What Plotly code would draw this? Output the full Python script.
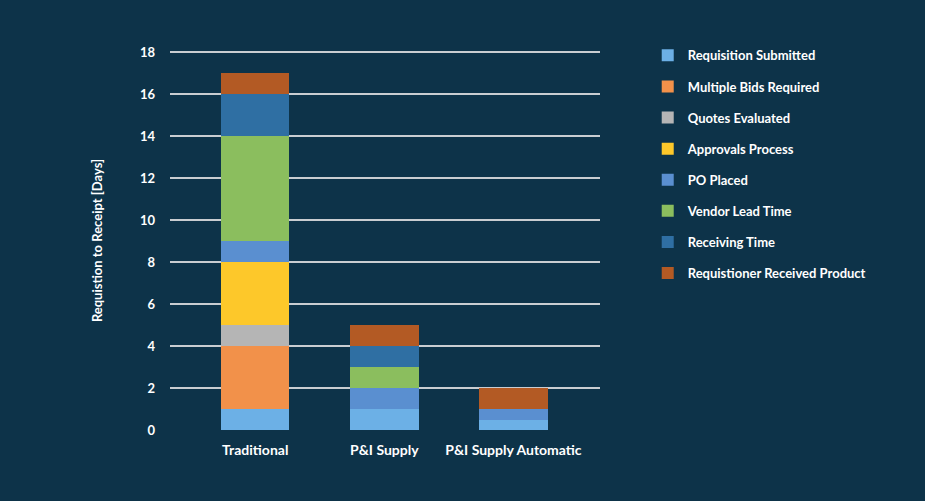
import plotly.graph_objects as go

categories = ["Traditional", "P&I Supply", "P&I Supply Automatic"]
series_names = [
    "Requisition Submitted",
    "Multiple Bids Required",
    "Quotes Evaluated",
    "Approvals Process",
    "PO Placed",
    "Vendor Lead Time",
    "Receiving Time",
    "Requistioner Received Product",
]
requisition_submitted = [1, 1, 0.5]
multiple_bids = [3, 0, 0]
quotes_evaluated = [1, 0, 0]
approvals_process = [3, 0, 0]
po_placed = [1, 1, 0.5]
vendor_lead_time = [5, 1, 0]
receiving_time = [2, 1, 0]
received_product = [1, 1, 1]
series_values = [requisition_submitted, multiple_bids, quotes_evaluated, approvals_process,
                 po_placed, vendor_lead_time, receiving_time, received_product]
colors = ["#6cb0e6", "#f2914a", "#b5b5b5", "#fdc82a", "#5a8fd0", "#8bbe5e", "#2f6fa3", "#b35a24"]
tick_vals = [0, 2, 4, 6, 8, 10, 12, 14, 16, 18]

BG = "#0d3349"
FONT = "Lato"

fig = go.Figure()
for name, vals, col in zip(series_names, series_values, colors):
    fig.add_trace(go.Bar(
        x=categories, y=vals, name=name, legendgroup=name,
        marker=dict(color=col, line=dict(width=0)),
        width=0.53,
    ))

fig.update_layout(
    barmode="stack",
    width=925, height=501,
    paper_bgcolor=BG, plot_bgcolor=BG,
    margin=dict(l=170, r=325, t=51, b=71),
    font=dict(family=FONT, color="white", size=12),
    showlegend=True,
    legend=dict(
        x=1.111, y=1.028, xanchor="left", yanchor="top",
        traceorder="grouped", tracegroupgap=11.2,
        font=dict(family=FONT, size=13, color="white", weight="bold"),
        bgcolor="rgba(0,0,0,0)",
        itemclick=False,
    ),
    xaxis=dict(
        range=[-0.66, 2.67], showgrid=False, zeroline=False, showline=False,
        tickfont=dict(family=FONT, size=14, color="white", weight="bold"),
        ticks="", fixedrange=True, ticklabelstandoff=10,
    ),
    yaxis=dict(
        range=[0, 18.05], tickvals=tick_vals, showgrid=True, gridcolor="#c9cdd1",
        gridwidth=2, zeroline=False, showline=False, layer="above traces",
        tickfont=dict(family=FONT, size=13, color="white", weight="bold"),
        ticklabelstandoff=14, fixedrange=True,
        title=dict(text="Requistion to Receipt [Days]", standoff=34,
                   font=dict(family=FONT, size=13, color="white", weight="bold")),
    ),
    bargap=0.4,
)

fig.write_html("out.html", config={"displayModeBar": False})

with open("out.html", "r", encoding="utf-8") as f:
    html = f.read()
html = html.replace("<head>", "<head><style>html,body{margin:0;padding:0;background:#0d3349;}</style>", 1)
with open("out.html", "w", encoding="utf-8") as f:
    f.write(html)
